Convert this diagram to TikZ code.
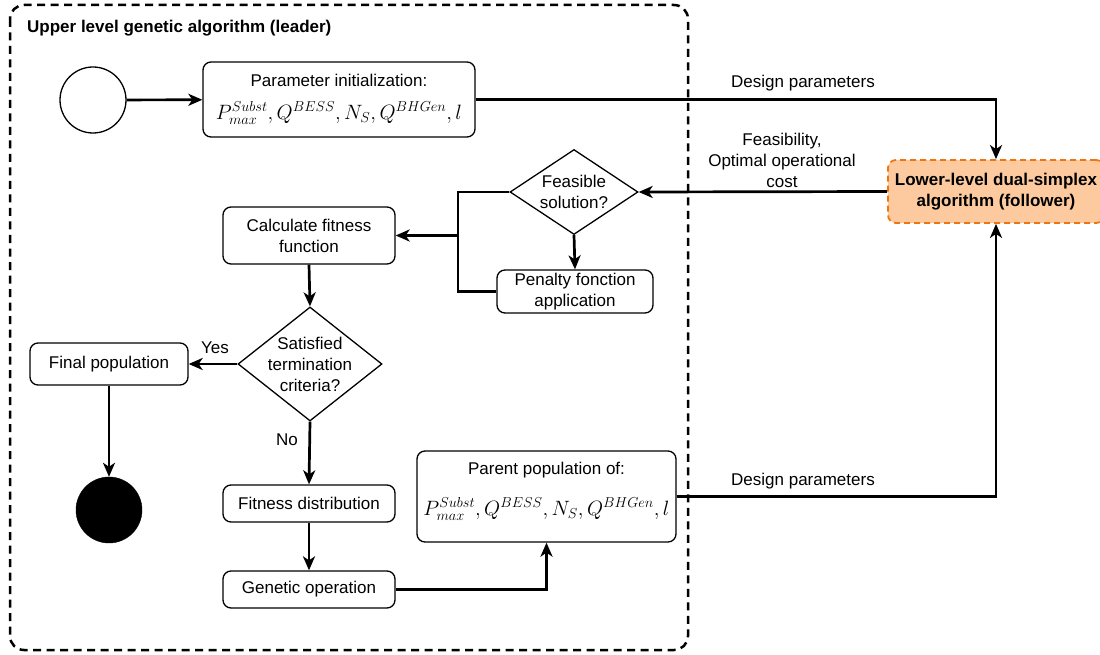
\documentclass[tikz,border=0pt]{standalone}
\usepackage{fontspec}
\setmainfont{Liberation Sans}
\usetikzlibrary{arrows.meta,shapes.geometric}
\definecolor{orfill}{RGB}{252,202,158}
\definecolor{orline}{RGB}{238,118,18}
\tikzset{
  box/.style={draw, line width=1.3pt, rounded corners=8pt, align=center, inner sep=0pt, font=\fontsize{17}{21}\selectfont},
  dia/.style={draw, diamond, line width=1.3pt, inner sep=0pt},
  txt/.style={align=center, inner sep=0pt, font=\fontsize{17}{21}\selectfont},
  mth/.style={align=center, inner sep=0pt, font=\fontsize{21}{25}\selectfont},
  arr/.style={line width=2.7pt, -{Stealth[length=14pt,width=12pt,inset=4pt]}},
  ln/.style={line width=2.7pt},
  outer/.style={line width=2.5pt, dash pattern=on 8pt off 5.5pt, rounded corners=14pt},
}
\begin{document}
\begin{tikzpicture}[x=1pt,y=-1pt]
\useasboundingbox (0,0) rectangle (1100,655);
% outer container
\draw[outer] (10,5) rectangle (688,650);
\node[txt, anchor=west, font=\fontsize{17}{21}\selectfont\bfseries] (title) at (27,28) {Upper level genetic algorithm (leader)};

% nodes
\node[draw, circle, line width=1.3pt, minimum size=66pt, inner sep=0pt] (start) at (93,100) {};
\node[box, minimum width=272pt, minimum height=75pt] (param) at (339,99.5) {};
\node[txt] (paramt1) at (339,80) {Parameter initialization:};
\node[mth] (paramt2) at (339,113) {$P^{Subst}_{max}, Q^{BESS}, N_S, Q^{BHGen}, l$};

\node[box, draw=orline, fill=orfill, line width=1.8pt, dash pattern=on 6pt off 4pt, minimum width=216pt, minimum height=63pt, font=\fontsize{17}{21}\selectfont\bfseries] (lower) at (996,191.5) {Lower-level dual-simplex\\algorithm (follower)};

\node[dia, minimum width=128pt, minimum height=85pt] (feas) at (574,192) {};
\node[txt] (feast) at (feas.center) {Feasible\\solution?};

\node[box, minimum width=156pt, minimum height=43pt] (pen) at (575,291.5) {Penalty fonction\\application};
\node[box, minimum width=172pt, minimum height=57pt] (calc) at (309,235.5) {Calculate fitness\\function};

\node[dia, minimum width=144pt, minimum height=114pt] (sat) at (310,364) {};
\node[txt] (satt) at (sat.center) {Satisfied\\termination\\criteria?};

\node[box, minimum width=158pt, minimum height=42pt] (final) at (109,364) {Final population};
\node[draw, circle, fill=black, minimum size=66pt, inner sep=0pt] (end) at (109,510) {};

\node[box, minimum width=172pt, minimum height=37pt] (fit) at (309,503.5) {Fitness distribution};
\node[box, minimum width=172pt, minimum height=37pt] (gen) at (309,589.5) {Genetic operation};

\node[box, minimum width=259pt, minimum height=91pt] (parent) at (546.5,496.5) {};
\node[txt] (parentt1) at (546.5,470) {Parent population of:};
\node[mth] (parentt2) at (546.5,509) {$P^{Subst}_{max}, Q^{BESS}, N_S, Q^{BHGen}, l$};

\coordinate (j) at (458,235.5);

% connectors
\draw[arr] (start) -- (param);
\draw[arr] (param.east) -| (lower.north);
\draw[arr] (lower.west) -- (feas.east);
\draw[arr] (feas.west) -| (j) -- (calc.east);
\draw[ln] (pen.west) -| (j);
\draw[arr] (feas.south) -- (pen.north);
\draw[arr] (calc.south) -- (sat.north);
\draw[arr] (sat.west) -- (final.east);
\draw[arr] (final.south) -- (end.north);
\draw[arr] (sat.south) -- (fit.north);
\draw[arr] (fit.south) -- (gen.north);
\draw[arr] (gen.east) -| (parent.south);
\draw[arr] (parent.east) -| (lower.south);

% labels
\node[txt] (l1) at (803,83) {Design parameters};
\node[txt] (l2) at (782,160) {Feasibility,\\Optimal operational\\cost};
\node[txt] (l3) at (803,481) {Design parameters};
\node[txt] (yes) at (215,348) {Yes};
\node[txt] (no) at (287,440) {No};
\end{tikzpicture}
\end{document}
